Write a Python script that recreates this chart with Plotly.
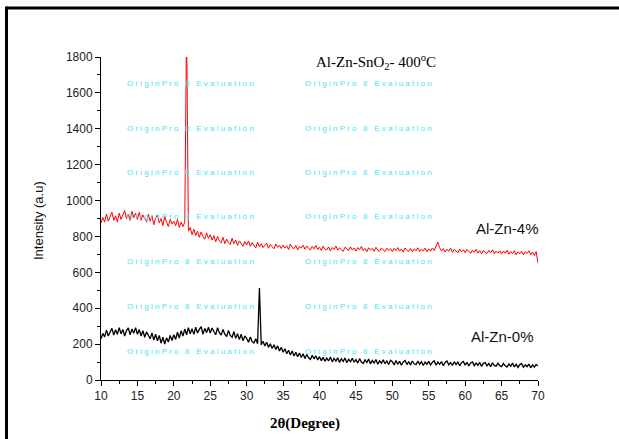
import numpy as np
import plotly.graph_objects as go

# 2-theta grid (degrees) and hand-read intensities
two_theta = list(np.arange(10, 70.001, 0.25))

al_zn_4 = [875, 905, 880, 925, 885, 910, 935, 890, 915, 880, 930, 895, 920, 945, 900, 925, 890, 940, 905, 930,
           895, 935, 890, 920, 900, 880, 925, 885, 915, 865, 905, 920, 875, 900, 860, 910, 880, 855, 895, 870,
           885, 860, 895, 850, 880, 855, 880, 1980, 830, 850, 810, 840, 805, 830, 795, 825, 800, 785, 820, 790,
           810, 780, 805, 770, 800, 775, 765, 795, 760, 785, 765, 755, 790, 760, 780, 750, 775, 758, 745, 772,
           752, 775, 745, 765, 748, 736, 768, 742, 760, 738, 752, 763, 734, 755, 742, 731, 758, 739, 750, 733,
           752, 735, 748, 727, 757, 738, 732, 750, 725, 745, 735, 752, 729, 747, 733, 725, 745, 731, 750, 727,
           740, 722, 746, 729, 725, 742, 719, 738, 727, 747, 723, 737, 725, 717, 740, 728, 722, 742, 725, 736,
           719, 738, 726, 744, 721, 733, 715, 737, 724, 734, 717, 740, 723, 718, 736, 725, 716, 735, 722, 732,
           715, 734, 721, 738, 718, 730, 713, 736, 722, 717, 733, 714, 731, 720, 737, 716, 729, 719, 735, 715,
           731, 718, 736, 722, 742, 768, 737, 719, 732, 713, 729, 717, 735, 712, 728, 716, 709, 730, 714, 726,
           710, 728, 715, 706, 724, 711, 729, 707, 721, 703, 723, 710, 705, 722, 708, 726, 704, 718, 707, 720,
           702, 719, 706, 724, 700, 716, 704, 721, 698, 714, 703, 718, 697, 715, 705, 720, 699, 713, 694, 716,
           650]

al_zn_0 = [230, 260, 240, 278, 245, 270, 288, 250, 280, 255, 292, 258, 282, 245, 275, 290, 252, 284, 260, 292,
           255, 282, 245, 275, 238, 268, 245, 230, 262, 222, 255, 218, 248, 205, 238, 200, 235, 212, 248, 220,
           252, 226, 266, 234, 274, 245, 284, 252, 292, 258, 286, 254, 294, 262, 282, 298, 255, 288, 264, 294,
           262, 290, 270, 252, 292, 264, 250, 282, 255, 242, 276, 248, 238, 270, 232, 258, 225, 255, 218, 246,
           232, 210, 240, 214, 206, 230, 202, 512, 196, 216, 190, 210, 182, 202, 176, 196, 170, 190, 162, 182,
           155, 174, 146, 166, 140, 162, 134, 154, 130, 150, 125, 146, 120, 142, 124, 115, 138, 118, 134, 112,
           130, 108, 126, 104, 122, 106, 128, 101, 120, 105, 124, 98, 118, 103, 123, 96, 116, 102, 121, 99,
           114, 94, 119, 100, 92, 112, 97, 117, 90, 109, 95, 114, 88, 107, 93, 112, 91, 106, 86, 110,
           102, 84, 108, 89, 104, 82, 101, 109, 86, 103, 83, 106, 90, 85, 105, 88, 102, 81, 100, 87,
           104, 84, 99, 107, 82, 101, 87, 103, 80, 98, 106, 85, 97, 81, 102, 86, 100, 79, 96, 103,
           83, 99, 78, 95, 101, 80, 94, 82, 98, 76, 93, 97, 79, 92, 74, 96, 81, 77, 94, 80,
           75, 92, 79, 72, 90, 76, 95, 73, 88, 70, 86, 91, 71, 85, 74, 89, 68, 84, 72, 87,
           78]

fig = go.Figure()
fig.add_trace(go.Scatter(x=two_theta, y=al_zn_4, mode="lines", line=dict(color="#ff0000", width=1), showlegend=False))
fig.add_trace(go.Scatter(x=two_theta, y=al_zn_0, mode="lines", line=dict(color="#000000", width=1.3), showlegend=False))

L, R, T, B = 101, 538, 57, 380
def px(x):
    return (x - L) / (R - L)
def py(y):
    return (B - y) / (B - T)

ann = []
wm = "O r i g i n P r o   8   E v a l u a t i o n"
for yy in [83, 128, 172, 217, 261, 306, 351]:
    for xx in [125, 303]:
        ann.append(dict(text=wm, x=px(xx), y=py(yy), xref="paper", yref="paper",
                        xanchor="left", yanchor="middle", showarrow=False,
                        font=dict(family="Arial", size=8, color="#3fe6f2")))
ann.append(dict(text="Al-Zn-SnO<sub>2</sub>- 400<sup>o</sup>C", x=px(376), y=py(62), xref="paper", yref="paper",
                xanchor="center", yanchor="middle", showarrow=False,
                font=dict(family="Liberation Serif", size=15, color="#000")))
ann.append(dict(text="Al-Zn-4%", x=px(474), y=py(229), xref="paper", yref="paper",
                xanchor="left", yanchor="middle", showarrow=False,
                font=dict(family="Arial", size=15, color="#111")))
ann.append(dict(text="Al-Zn-0%", x=px(469), y=py(336), xref="paper", yref="paper",
                xanchor="left", yanchor="middle", showarrow=False,
                font=dict(family="Arial", size=15, color="#111")))
ann.append(dict(text="<b>2θ(Degree)</b>", x=px(305), y=py(423), xref="paper", yref="paper",
                xanchor="center", yanchor="middle", showarrow=False,
                font=dict(family="Liberation Serif", size=15, color="#000")))
ann.append(dict(text="Intensity (a.u)", x=px(38), y=py(221), xref="paper", yref="paper",
                xanchor="center", yanchor="middle", showarrow=False, textangle=-90,
                font=dict(family="Arial", size=13, color="#111")))

shapes = [
    dict(type="line", xref="paper", yref="paper", x0=px(6.5), x1=px(625), y0=py(8), y1=py(8),
         line=dict(color="#000", width=3)),
    dict(type="line", xref="paper", yref="paper", x0=px(6.5), x1=px(6.5), y0=py(6.5), y1=py(445),
         line=dict(color="#000", width=3)),
]

axis_common = dict(showline=True, linecolor="#000", linewidth=1, ticks="outside", ticklen=5,
                   tickcolor="#000", tickwidth=1, showgrid=False, zeroline=False,
                   tickfont=dict(family="Arial", size=12, color="#222"))

fig.update_layout(
    width=619, height=439,
    margin=dict(l=L, r=619 - R, t=T, b=439 - B),
    paper_bgcolor="white", plot_bgcolor="white",
    xaxis=dict(range=[10, 70], dtick=5, tick0=10,
               minor=dict(ticks="outside", ticklen=3, dtick=2.5, tickcolor="#000"), **axis_common),
    yaxis=dict(range=[0, 1800], dtick=200, tick0=0,
               minor=dict(ticks="outside", ticklen=3, dtick=100, tickcolor="#000"), **axis_common),
    annotations=ann, shapes=shapes,
)

fig.write_html("out.html", config={"displayModeBar": False},
               post_script="document.body.style.margin='0';document.body.style.overflow='hidden';")
